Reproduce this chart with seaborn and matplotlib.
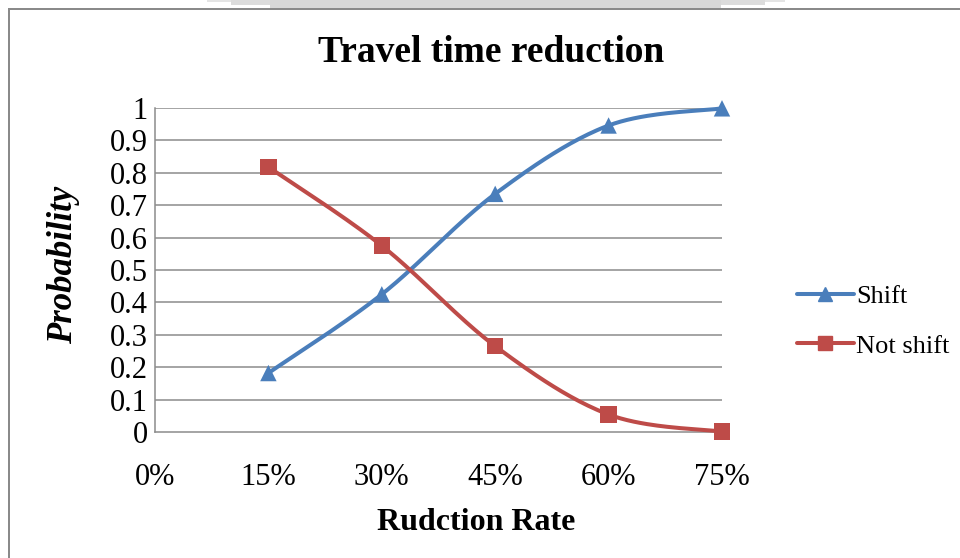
import numpy as np
import pandas as pd
import matplotlib
matplotlib.use("Agg")
import matplotlib.pyplot as plt
from matplotlib.lines import Line2D
from matplotlib.patches import Rectangle
import seaborn as sns

# Reduction rates and probabilities for each choice
rates = [0.15, 0.30, 0.45, 0.60, 0.75]
shift = [0.182, 0.425, 0.735, 0.946, 0.999]
not_shift = [0.818, 0.575, 0.265, 0.054, 0.001]
series_names = ["Shift", "Not shift"]
x_ticks = [0.0, 0.15, 0.30, 0.45, 0.60, 0.75]
x_tick_labels = ["0%", "15%", "30%", "45%", "60%", "75%"]
y_ticks = [0, 0.1, 0.2, 0.3, 0.4, 0.5, 0.6, 0.7, 0.8, 0.9, 1.0]
y_tick_labels = ["0", "0.1", "0.2", "0.3", "0.4", "0.5", "0.6", "0.7", "0.8", "0.9", "1"]

BLUE = "#4A7EBB"
RED = "#BE4B48"
GRID = "#8C8C8C"

sns.set_theme(style="white")
plt.rcParams["font.family"] = ["Liberation Serif", "DejaVu Serif"]
plt.rcParams["text.color"] = "black"


def smooth(xs, ys, n=40):
    """Bezier smoothing through the points, in the style of spreadsheet charts."""
    p = np.column_stack([xs, ys]).astype(float)
    ext = np.vstack([p[0], p, p[-1]])
    out = []
    t = np.linspace(0, 1, n)[:, None]
    for i in range(len(p) - 1):
        p0, p1, p2, p3 = ext[i], ext[i + 1], ext[i + 2], ext[i + 3]
        c1 = p1 + (p2 - p0) / 6.0
        c2 = p2 - (p3 - p1) / 6.0
        seg = ((1 - t) ** 3) * p1 + 3 * ((1 - t) ** 2) * t * c1 + 3 * (1 - t) * t ** 2 * c2 + t ** 3 * p2
        out.append(seg if i == 0 else seg[1:])
    pts = np.vstack(out)
    return pts[:, 0], pts[:, 1]


curves = []
for name, vals in zip(series_names, [shift, not_shift]):
    sx, sy = smooth(rates, vals)
    curves.append(pd.DataFrame({"rate": sx, "prob": sy, "series": name}))
curve_df = pd.concat(curves, ignore_index=True)
point_df = pd.DataFrame({
    "rate": rates * 2,
    "prob": shift + not_shift,
    "series": ["Shift"] * len(rates) + ["Not shift"] * len(rates),
})

fig = plt.figure(figsize=(9.6, 5.58), dpi=100)
ax = fig.add_axes([155 / 960, 1 - 432 / 558, 567 / 960, 324 / 558])

palette = {"Shift": BLUE, "Not shift": RED}
sns.lineplot(data=curve_df, x="rate", y="prob", hue="series", palette=palette,
             sort=False, estimator=None, units="series", linewidth=2.9,
             legend=False, ax=ax, clip_on=False, zorder=3)
sns.scatterplot(data=point_df, x="rate", y="prob", hue="series", style="series",
                markers={"Shift": "^", "Not shift": "s"}, palette=palette,
                s=140, linewidth=0, legend=False, ax=ax, clip_on=False, zorder=4)

ax.set_xlim(0, 0.75)
ax.set_ylim(0, 1)
ax.set_xticks(x_ticks)
ax.set_xticklabels(x_tick_labels)
ax.set_yticks(y_ticks)
ax.set_yticklabels(y_tick_labels)
ax.tick_params(axis="both", length=0, labelsize=22, colors="black")
ax.tick_params(axis="x", pad=22)
ax.tick_params(axis="y", pad=5)
ax.set_xlabel("")
ax.set_ylabel("")

for yv in y_ticks[1:]:
    ax.axhline(yv, color=GRID, linewidth=1.1, zorder=1)
for side in ["top", "right"]:
    ax.spines[side].set_visible(False)
for side in ["left", "bottom"]:
    ax.spines[side].set_color(GRID)
    ax.spines[side].set_linewidth(1.1)

fig.text(491 / 960, 1 - 53 / 558, "Travel time reduction", ha="center", va="center",
         fontsize=27, fontweight="bold", color="black")
fig.text(476 / 960, 1 - 523 / 558, "Rudction Rate", ha="center", va="center",
         fontsize=23, fontweight="bold", color="black")
fig.text(64 / 960, 1 - 265 / 558, "Probability", ha="center", va="center",
         rotation=90, fontsize=25, fontweight="bold", fontstyle="italic", color="black")

handles = [
    Line2D([], [], color=BLUE, linewidth=2.9, marker="^", markersize=10),
    Line2D([], [], color=RED, linewidth=2.9, marker="s", markersize=10),
]
leg = fig.legend(handles, series_names, loc="center left",
                 bbox_to_anchor=(797 / 960, 1 - 321 / 558), frameon=False,
                 fontsize=19, handlelength=2.15, handletextpad=0.08, labelspacing=1.0,
                 borderaxespad=0, borderpad=0)
for txt in leg.get_texts():
    txt.set_color("black")

# Frame and shading along the top edge
fig.patches.append(Rectangle((8 / 960, 0), 2 / 960, 1 - 8 / 558, transform=fig.transFigure,
                             facecolor="#8a8a8a", edgecolor="none"))
fig.patches.append(Rectangle((8 / 960, 1 - 10 / 558), 1 - 8 / 960, 2.5 / 558, transform=fig.transFigure,
                             facecolor="#8a8a8a", edgecolor="none"))
fig.patches.append(Rectangle((207 / 960, 1 - 1.5 / 558), 578 / 960, 1.5 / 558, transform=fig.transFigure,
                             facecolor="#e4e4e4", edgecolor="none"))
fig.patches.append(Rectangle((231 / 960, 1 - 5 / 558), 534 / 960, 5 / 558, transform=fig.transFigure,
                             facecolor="#dcdcdc", edgecolor="none"))
fig.patches.append(Rectangle((270 / 960, 1 - 7.5 / 558), 451 / 960, 7.5 / 558, transform=fig.transFigure,
                             facecolor="#d8d8d8", edgecolor="none"))

fig.savefig("out.png", dpi=100, facecolor="white")
